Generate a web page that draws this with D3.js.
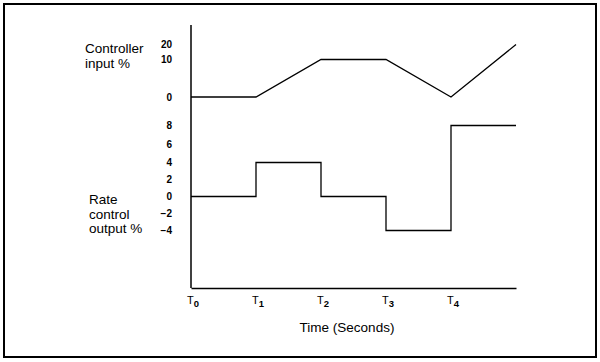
<!DOCTYPE html>
<html>
<head>
<meta charset="utf-8">
<script src="https://cdn.jsdelivr.net/npm/d3@7/dist/d3.min.js"></script>
<style>
  html, body { margin: 0; padding: 0; background: #fff; }
  svg { display: block; }
  text { font-family: "Liberation Sans", Arial, Helvetica, sans-serif; fill: #000; }
</style>
</head>
<body>
<svg id="chart" width="600" height="362"></svg>
<script>
// ---- data ----
const times = [0, 1, 2, 3, 4, 5];
const inputValues = [0, 0, 10, 10, 0, 20];      // Controller input %
const outputValues = [0, 4, 0, -4, 8, 8];       // Rate control output %
const inputTicks = [0, 10, 20];
const outputTicks = [-4, -2, 0, 2, 4, 6, 8];
const timeTicks = [0, 1, 2, 3, 4];
const timeTickLabels = ["0", "1", "2", "3", "4"];

// ---- layout ----
const axisX = 191, axisTop = 25, axisBottom = 288, axisRight = 516;

const svg = d3.select("#chart");

// border
svg.append("rect")
  .attr("x", 4).attr("y", 4).attr("width", 592).attr("height", 353)
  .attr("fill", "none").attr("stroke", "#000").attr("stroke-width", 2);

// scales
const x = d3.scaleLinear().domain([0, 5]).range([axisX, axisRight]);
const yIn = d3.scaleLinear().domain([0, 10, 20]).range([97, 59.5, 44.5]);
const yOut = d3.scaleLinear().domain([-4, 0, 4, 8]).range([230.5, 196.5, 162.5, 125.5]);

// vertical axis line
svg.append("line")
  .attr("x1", axisX).attr("x2", axisX)
  .attr("y1", axisTop).attr("y2", axisBottom)
  .attr("stroke", "#000").attr("stroke-width", 1.5);

// x axis
const gx = svg.append("g")
  .attr("transform", `translate(0,${axisBottom})`)
  .call(d3.axisBottom(x).tickValues(timeTicks).tickSize(0).tickSizeOuter(0).tickPadding(8)
        .tickFormat(() => ""));
gx.select(".domain").attr("stroke", "#000").attr("stroke-width", 1.5);
gx.selectAll(".tick text")
  .attr("font-size", 11)
  .attr("dx", "1.5")
  .each(function(d, i) {
    const t = d3.select(this);
    t.text(null);
    t.append("tspan").text("T");
    t.append("tspan").attr("font-size", 9.5).attr("font-weight", "bold").attr("dy", 3).text(timeTickLabels[i]);
  });

// left axes (labels only)
function leftLabels(scale, ticks) {
  const g = svg.append("g")
    .attr("transform", `translate(${axisX - 19},0)`)
    .call(d3.axisLeft(scale).tickValues(ticks).tickSize(0).tickPadding(0)
          .tickFormat(d => d < 0 ? "\u2212" + Math.abs(d) : String(d)));
  g.select(".domain").remove();
  g.selectAll(".tick text")
    .attr("font-size", 10)
    .attr("font-weight", "bold")
    .attr("fill", "#000");
  return g;
}
leftLabels(yIn, inputTicks);
leftLabels(yOut, outputTicks);

// lines
const inputLine = d3.line()
  .x((d, i) => x(times[i]))
  .y(d => yIn(d));
svg.append("path")
  .datum(inputValues)
  .attr("d", inputLine)
  .attr("fill", "none").attr("stroke", "#000").attr("stroke-width", 1.3);

const outputLine = d3.line()
  .curve(d3.curveStepAfter)
  .x((d, i) => x(times[i]))
  .y(d => yOut(d));
svg.append("path")
  .datum(outputValues)
  .attr("d", outputLine)
  .attr("fill", "none").attr("stroke", "#000").attr("stroke-width", 1.3);

// side titles
const t1 = svg.append("text").attr("font-size", 13.5);
t1.append("tspan").attr("x", 85).attr("y", 53).text("Controller");
t1.append("tspan").attr("x", 85).attr("y", 67.5).text("input %");

const t2 = svg.append("text").attr("font-size", 13.5);
t2.append("tspan").attr("x", 89).attr("y", 204).text("Rate");
t2.append("tspan").attr("x", 89).attr("y", 218.5).text("control");
t2.append("tspan").attr("x", 89).attr("y", 233).text("output %");

// x title
svg.append("text")
  .attr("x", 347).attr("y", 332)
  .attr("text-anchor", "middle")
  .attr("font-size", 13.5)
  .text("Time (Seconds)");
</script>
</body>
</html>
